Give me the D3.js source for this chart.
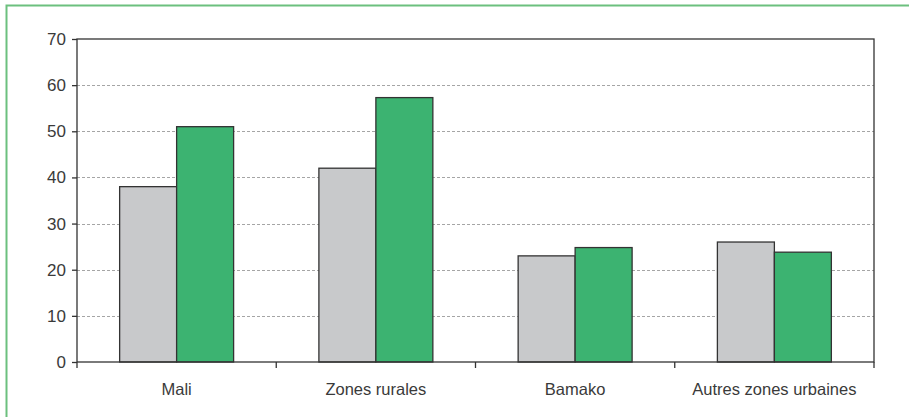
<!DOCTYPE html>
<html>
<head>
<meta charset="utf-8">
<script src="https://cdn.jsdelivr.net/npm/d3@7"></script>
<style>
  body { margin: 0; background: #fff; }
  svg { display: block; font-family: "Liberation Sans", Arial, sans-serif; }
</style>
</head>
<body>
<div id="chart"></div>
<script>
const categories = ["Mali", "Zones rurales", "Bamako", "Autres zones urbaines"];
const seriesGray = [38, 42, 23, 26];
const seriesGreen = [51, 57.3, 24.8, 23.8];
const yTicks = [0, 10, 20, 30, 40, 50, 60, 70];

let width = 909,
  height = 417,
  margin = { top: 39, right: 35, bottom: 55, left: 77 };

const svg = d3
  .select("#chart")
  .append("svg")
  .attr("width", width)
  .attr("height", height);

// green frame, runs off the right and bottom of the picture
svg
  .append("rect")
  .attr("x", 6.5)
  .attr("y", 5.5)
  .attr("width", width + 10)
  .attr("height", height + 10)
  .attr("fill", "none")
  .attr("stroke", "#6cc07e")
  .attr("stroke-width", 2);

let x = d3
  .scaleBand()
  .domain(categories)
  .range([margin.left, width - margin.right])
  .paddingInner(0.428)
  .paddingOuter(0.214);

let sub = d3
  .scaleBand()
  .domain(["gray", "green"])
  .range([0, x.bandwidth()]);

let y = d3
  .scaleLinear()
  .domain([0, 70])
  .range([height - margin.bottom, margin.top]);

// dashed grid
svg
  .append("g")
  .selectAll("line")
  .data(yTicks.filter((d) => d > 0 && d < 70))
  .join("line")
  .attr("x1", margin.left)
  .attr("x2", width - margin.right)
  .attr("y1", (d) => Math.round(y(d)) + 0.5)
  .attr("y2", (d) => Math.round(y(d)) + 0.5)
  .attr("stroke", "#a5a5a5")
  .attr("stroke-width", 1)
  .attr("stroke-dasharray", "3,2");

// bars
const rows = categories.map((c, i) => ({ c, gray: seriesGray[i], green: seriesGreen[i] }));
const colors = { gray: "#c8c9cb", green: "#3cb371" };

for (let key of ["gray", "green"]) {
  svg
    .append("g")
    .selectAll("rect")
    .data(rows)
    .join("rect")
    .attr("x", (d) => x(d.c) + sub(key))
    .attr("y", (d) => y(d[key]))
    .attr("width", sub.bandwidth())
    .attr("height", (d) => y(0) - y(d[key]))
    .attr("fill", colors[key])
    .attr("stroke", "#333")
    .attr("stroke-width", 1.3);
}

// plot frame
svg
  .append("rect")
  .attr("x", margin.left)
  .attr("y", margin.top)
  .attr("width", width - margin.left - margin.right)
  .attr("height", height - margin.top - margin.bottom)
  .attr("fill", "none")
  .attr("stroke", "#333")
  .attr("stroke-width", 1.3);

// y axis
const yAxis = svg
  .append("g")
  .attr("transform", `translate(${margin.left},0)`)
  .call(d3.axisLeft(y).tickValues(yTicks).tickSize(5).tickPadding(6));
yAxis.select(".domain").remove();
yAxis.selectAll("line").attr("stroke", "#333").attr("stroke-width", 1.3);
yAxis
  .selectAll("text")
  .attr("fill", "#3a3a3a")
  .style("font-size", "17px")
  .style("font-family", "Liberation Sans, Arial, sans-serif");

// x axis: ticks at category boundaries
const step = x.step();
const bounds = categories.map((c) => x(c) - (step - x.bandwidth()) / 2);
bounds.push(width - margin.right);

svg
  .append("g")
  .selectAll("line")
  .data(bounds)
  .join("line")
  .attr("x1", (d) => d)
  .attr("x2", (d) => d)
  .attr("y1", y(0))
  .attr("y2", y(0) + 6)
  .attr("stroke", "#333")
  .attr("stroke-width", 1.3);

svg
  .append("g")
  .selectAll("text")
  .data(categories)
  .join("text")
  .attr("x", (d) => x(d) + x.bandwidth() / 2)
  .attr("y", y(0) + 33)
  .attr("text-anchor", "middle")
  .attr("fill", "#3a3a3a")
  .style("font-size", "16.5px")
  .text((d) => d);
</script>
</body>
</html>
